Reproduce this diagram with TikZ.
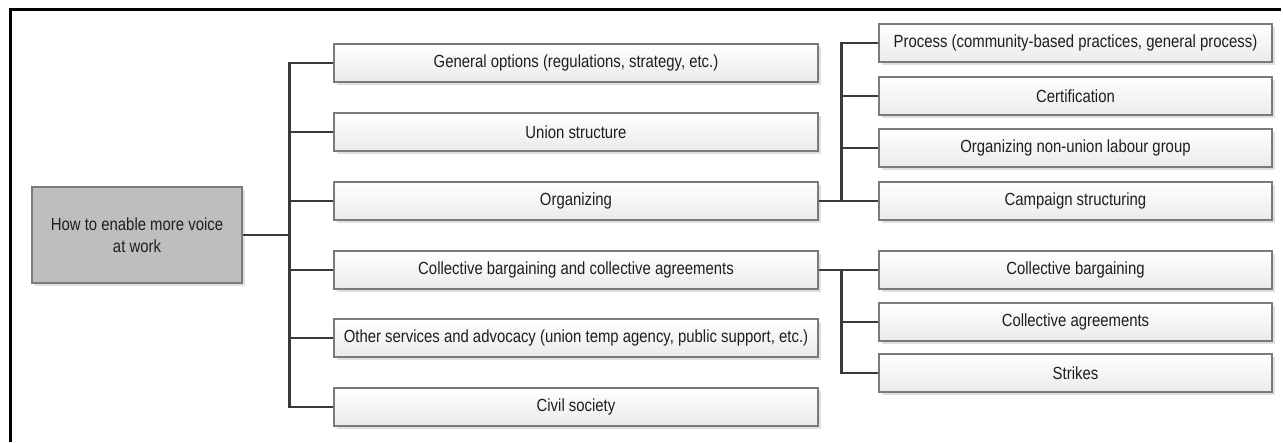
\documentclass[tikz,border=0pt]{standalone}
\usepackage{fontspec}
\usepackage{graphicx}
\setmainfont{Liberation Sans}
\usetikzlibrary{shadows}
\definecolor{boxline}{HTML}{7A7A7A}
\definecolor{linkcol}{HTML}{3A3A3A}
\definecolor{rootfill}{HTML}{BEBEBE}
\definecolor{txt}{HTML}{1E1E1E}
% labels are set slightly tall
\newcommand{\tx}[1]{\scalebox{1}[1.18]{#1}}
\tikzset{
  item/.style={draw=boxline, line width=1.1pt, top color=white, bottom color=black!8,
    drop shadow={shadow xshift=2.5pt, shadow yshift=-2.5pt, fill=black!12, opacity=1},
    minimum height=38pt, inner sep=0pt, text=txt,
    font=\fontsize{14.9pt}{18pt}\selectfont},
  lvone/.style={item, minimum width=484pt},
  lvtwo/.style={item, minimum width=393pt},
  rootbox/.style={draw=boxline, line width=1.1pt, fill=rootfill,
    drop shadow={shadow xshift=2.5pt, shadow yshift=-2.5pt, fill=black!12, opacity=1},
    minimum width=210pt, minimum height=96pt, inner sep=0pt, text=txt, align=center,
    font=\fontsize{14.9pt}{22pt}\selectfont},
  link/.style={draw=linkcol, line width=2.2pt},
  frame/.style={draw=black, line width=3pt}
}
\begin{document}
\begin{tikzpicture}[x=1pt,y=-1pt]
  \useasboundingbox (0,0) rectangle (1283,442);
  % frame edges (left and top)
  \coordinate (fl) at (10.5,442);
  \coordinate (fc) at (10.5,9.5);
  \coordinate (fr) at (1281,9.5);
  \draw[frame] (fl) -- (fc) -- (fr);

  % root
  \node[rootbox] (root) at (137,235) {\tx{How to enable more voice}\\\tx{at work}};

  % first level
  \node[lvone] (l1) at (576,63)  {\tx{General options (regulations, strategy, etc.)}};
  \node[lvone] (l2) at (576,132) {\tx{Union structure}};
  \node[lvone] (l3) at (576,201) {\tx{Organizing}};
  \node[lvone] (l4) at (576,270) {\tx{Collective bargaining and collective agreements}};
  \node[lvone] (l5) at (576,338) {\tx{Other services and advocacy (union temp agency, public support, etc.)}};
  \node[lvone] (l6) at (576,407) {\tx{Civil society}};

  % organizing branch
  \node[lvtwo] (o1) at (1075.5,43)  {\tx{Process (community-based practices, general process)}};
  \node[lvtwo] (o2) at (1075.5,96)  {\tx{Certification}};
  \node[lvtwo] (o3) at (1075.5,148) {\tx{Organizing non-union labour group}};
  \node[lvtwo] (o4) at (1075.5,201) {\tx{Campaign structuring}};

  % bargaining branch
  \node[lvtwo] (c1) at (1075.5,270) {\tx{Collective bargaining}};
  \node[lvtwo] (c2) at (1075.5,322) {\tx{Collective agreements}};
  \node[lvtwo] (c3) at (1075.5,373) {\tx{Strikes}};

  % connectors: root to first level
  \draw[link] (root.east) -- ++(48,0);
  \draw[link] (l1.west) -- ++(-44,0) |- (l6.west);
  \foreach \n in {l2,l3,l4,l5} \draw[link] (\n.west) -- ++(-44,0);

  % connectors: organizing branch
  \draw[link] (l3.east) -- ++(24,0);
  \draw[link] (o1.west) -- ++(-37,0) |- (o4.west);
  \foreach \n in {o2,o3} \draw[link] (\n.west) -- ++(-37,0);

  % connectors: bargaining branch
  \draw[link] (l4.east) -- ++(24,0);
  \draw[link] (c1.west) -- ++(-37,0) |- (c3.west);
  \draw[link] (c2.west) -- ++(-37,0);
\end{tikzpicture}
\end{document}
